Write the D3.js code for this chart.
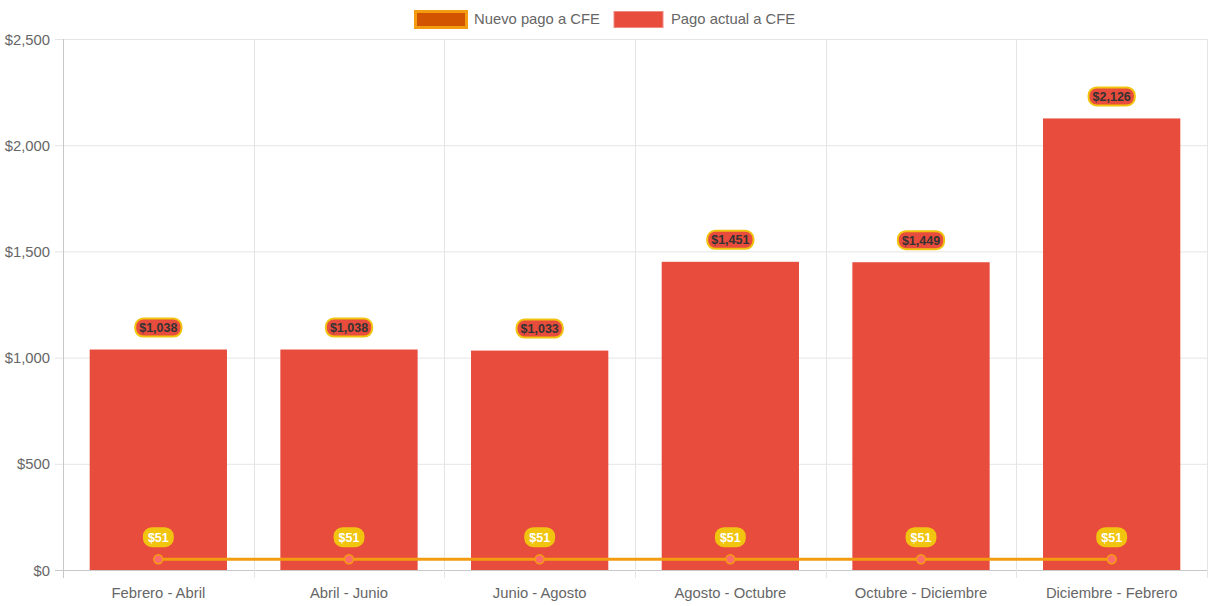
<!DOCTYPE html>
<html lang="es">
<head>
<meta charset="UTF-8">
<title>Pago a CFE</title>
<script src="https://d3js.org/d3.v7.min.js"></script>
<style>
  body { margin: 0; background: #fff; font-family: "Liberation Sans", Arial, sans-serif; }
  .tick text { fill: #666; font-size: 14.8px; }
  .legend text { fill: #666; font-size: 14.8px; }
</style>
</head>
<body>
<svg id="chart" width="1213" height="606"></svg>
<script>
const periodos = ["Febrero - Abril", "Abril - Junio", "Junio - Agosto", "Agosto - Octubre", "Octubre - Diciembre", "Diciembre - Febrero"];
const pagoActual = [1038, 1038, 1033, 1451, 1449, 2126];
const pagoNuevo = [51, 51, 51, 51, 51, 51];
const yTicks = [0, 500, 1000, 1500, 2000, 2500];

const svg = d3.select("#chart");
const margin = { top: 39, right: 6, bottom: 36, left: 63 };
const W = 1213, H = 606;

const x = d3.scaleBand().domain(periodos).range([margin.left, W - margin.right]).paddingInner(0).paddingOuter(0);
const y = d3.scaleLinear().domain([0, 2500]).range([H - margin.bottom, margin.top]);
const fmt = v => "$" + d3.format(",")(v);

// grid
const grid = svg.append("g");
grid.selectAll("line.h").data(yTicks).join("line")
  .attr("x1", margin.left - 8).attr("x2", W - margin.right)
  .attr("y1", d => y(d) + 0.5).attr("y2", d => y(d) + 0.5)
  .attr("stroke", d => d === 0 ? "#c8c8c8" : "#e5e5e5");
const bounds = periodos.map(p => x(p)).concat([W - margin.right]);
grid.selectAll("line.v").data(bounds).join("line")
  .attr("x1", d => Math.round(d) + 0.5).attr("x2", d => Math.round(d) + 0.5)
  .attr("y1", margin.top).attr("y2", H - margin.bottom + 8)
  .attr("stroke", (d, i) => i === 0 ? "#c8c8c8" : "#e5e5e5");

// axes
const yAxis = svg.append("g").attr("transform", `translate(${margin.left - 13},0)`)
  .call(d3.axisLeft(y).tickValues(yTicks).tickFormat(fmt).tickSize(0));
yAxis.select(".domain").remove();
yAxis.selectAll("text").attr("dy", "0.35em").attr("x", 0);

const xAxis = svg.append("g").attr("transform", `translate(0,${H - margin.bottom + 14})`)
  .call(d3.axisBottom(x).tickSize(0));
xAxis.select(".domain").remove();
xAxis.selectAll("text").attr("dy", "0.71em");

// bars
const bw = x.bandwidth() * 0.72;
svg.append("g").selectAll("rect").data(pagoActual).join("rect")
  .attr("x", (d, i) => x(periodos[i]) + (x.bandwidth() - bw) / 2)
  .attr("width", bw)
  .attr("y", d => y(d))
  .attr("height", d => y(0) - y(d))
  .attr("fill", "#e74c3c");

// line
const cx = i => x(periodos[i]) + x.bandwidth() / 2;
const line = d3.line().x((d, i) => cx(i)).y(d => y(d));
svg.append("path").datum(pagoNuevo)
  .attr("d", line).attr("fill", "none")
  .attr("stroke", "#f39c12").attr("stroke-width", 3);
svg.append("g").selectAll("circle").data(pagoNuevo).join("circle")
  .attr("cx", (d, i) => cx(i)).attr("cy", d => y(d)).attr("r", 4.5)
  .attr("fill", "#ff6b6b").attr("stroke", "#f39c12").attr("stroke-width", 1.5);

// labels
function label(g, xc, yc, text, fill, stroke, color) {
  const t = g.append("text").attr("x", xc).attr("y", yc).attr("dy", "0.35em")
    .attr("text-anchor", "middle").attr("font-size", 12.5).attr("font-weight", "bold")
    .attr("fill", color).text(text);
  const bb = t.node().getBBox();
  g.insert("rect", "text")
    .attr("x", bb.x - 4).attr("y", yc - 9).attr("width", bb.width + 8).attr("height", 18)
    .attr("rx", 8).attr("fill", fill).attr("stroke", stroke).attr("stroke-width", 2);
}
const lblBars = svg.append("g");
pagoActual.forEach((v, i) => {
  const g = lblBars.append("g");
  label(g, cx(i), y(v) - 22, fmt(v), "#e74c3c", "#f1c40f", "#333");
});
const lblLine = svg.append("g");
pagoNuevo.forEach((v, i) => {
  const g = lblLine.append("g");
  label(g, cx(i), y(v) - 22, fmt(v), "#f1c40f", "#f1c40f", "#fff");
});

// legend
const legend = svg.append("g").attr("class", "legend");
legend.append("rect").attr("x", 415.5).attr("y", 11.5).attr("width", 51).attr("height", 16)
  .attr("fill", "#d35400").attr("stroke", "#f39c12").attr("stroke-width", 3);
legend.append("text").attr("x", 474).attr("y", 19).attr("dy", "0.35em").text("Nuevo pago a CFE");
legend.append("rect").attr("x", 614).attr("y", 11.5).attr("width", 49).attr("height", 16)
  .attr("fill", "#e74c3c").attr("stroke", "#f08a80").attr("stroke-width", 1);
legend.append("text").attr("x", 671).attr("y", 19).attr("dy", "0.35em").text("Pago actual a CFE");
</script>
</body>
</html>
